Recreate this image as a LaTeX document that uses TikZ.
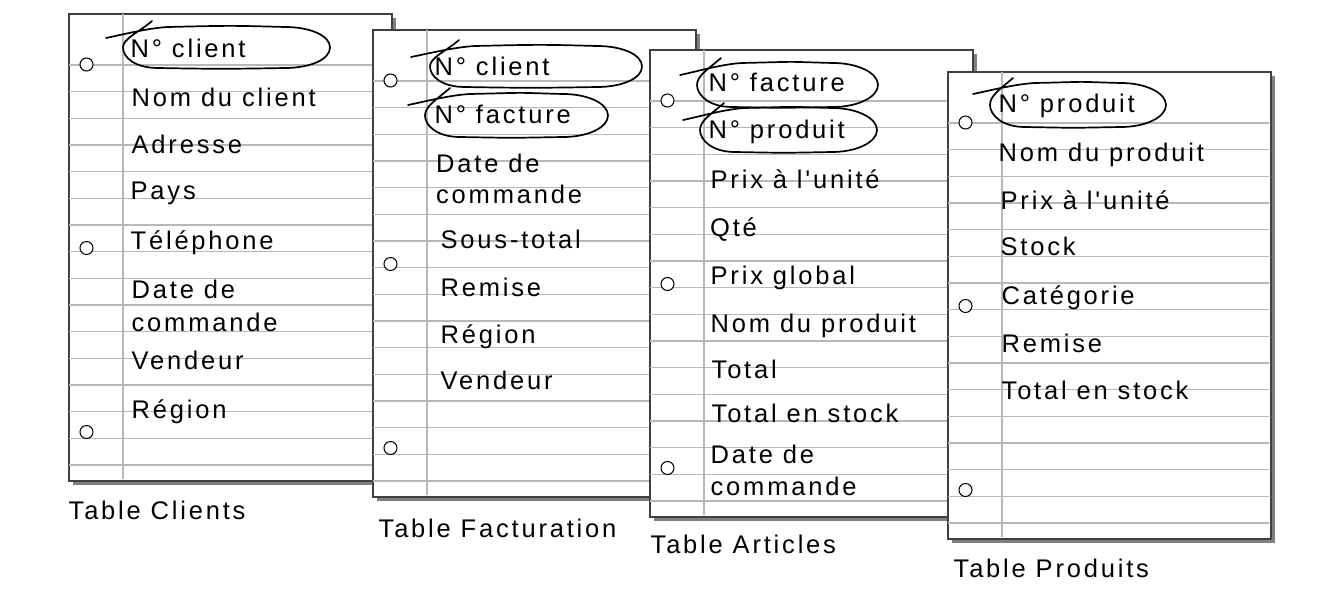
\documentclass[tikz,border=0pt]{standalone}
\usepackage{fontspec}
\setmainfont{Liberation Sans}[LetterSpace=11,Ligatures=TeXOff]
\definecolor{framecol}{gray}{0.25}
\definecolor{shadowcol}{gray}{0.5}
\definecolor{rulecol}{gray}{0.72}
\tikzset{
  frame/.style={draw=framecol, line width=1.6pt, fill=white, inner sep=0pt,
    minimum width=323pt, minimum height=467pt, anchor=north west},
  rule/.style={draw=rulecol, line width=1.3pt},
  hole/.style={circle, draw=black, line width=1pt, fill=white, minimum size=13pt, inner sep=0pt},
  field/.style={anchor=base west, inner sep=0pt, font=\fontsize{25.5}{30}\selectfont},
  lassoline/.style={draw=black, line width=1.7pt, line cap=round, line join=round},
}
% name, left, top
\newcommand\sheet[3]{%
  \fill[shadowcol] ({#2+5},{#3+5}) rectangle ({#2+328},{#3+472});
  \node[frame] (#1) at (#2,#3) {};
  \foreach \k in {0,...,15}
    \draw[rule] ({#2+1},{#3+52+\k*26.67}) -- ({#2+322},{#3+52+\k*26.67});
  \draw[rule] ({#2+55},{#3+1}) -- ({#2+55},{#3+466});
  \node[hole] (#1h1) at ({#2+18.5},{#3+51.5}) {};
  \node[hole] (#1h2) at ({#2+18.5},{#3+235}) {};
  \node[hole] (#1h3) at ({#2+18.5},{#3+419}) {};
}
% Sx Sy L T R B Ex Ey
\newcommand\lasso[8]{%
  \draw[lassoline] (#1,#2)
   .. controls ({#1+15},{#2-3}) and ({#3+25},{#4+1}) .. ({#3+45},#4)
   .. controls ({#3+110},{#4-1.5}) and ({#5-100},{#4-1.5}) .. ({#5-45},#4)
   .. controls ({#5-20},#4) and (#5,{(#4+#6)/2-12}) .. (#5,{(#4+#6)/2})
   .. controls (#5,{(#4+#6)/2+12}) and ({#5-20},#6) .. ({#5-45},#6)
   .. controls ({#5-100},{#6+1}) and ({#3+90},{#6+1}) .. ({#3+35},#6)
   .. controls ({#3+12},#6) and (#3,{(#4+#6)/2+10}) .. (#3,{(#4+#6)/2})
   .. controls (#3,{(#4+#6)/2-9}) and ({#7-14},{#8+12}) .. (#7,#8);
}
\begin{document}
\begin{tikzpicture}[x=1pt,y=-1pt]
\useasboundingbox (0,0) rectangle (1342,591);
\fill[white] (0,0) rectangle (1342,591);

% Table Clients
\sheet{t1}{68}{13}
\node[field] (t1a) at (130.5,58) {N° client};
\node[field] (t1b) at (131.5,107) {Nom du client};
\node[field] (t1c) at (131.5,154) {Adresse};
\node[field] (t1d) at (130.5,200) {Pays};
\node[field] (t1e) at (130.5,249) {Téléphone};
\node[field] (t1f) at (131.5,298) {Date de};
\node[field] (t1g) at (131.5,331) {commande};
\node[field] (t1h) at (131.5,369) {Vendeur};
\node[field] (t1i) at (131.5,418) {Région};
\lasso{106}{38}{123}{27}{330}{68}{152}{21}
\node[field] (c1) at (68.5,519) {Table Clients};

% Table Facturation
\sheet{t2}{372}{29}
\node[field] (t2a) at (434.5,76) {N° client};
\node[field] (t2b) at (434.5,124) {N° facture};
\node[field] (t2c) at (436,172) {Date de};
\node[field] (t2d) at (436,204) {commande};
\node[field] (t2e) at (440.5,248) {Sous-total};
\node[field] (t2f) at (440.5,296) {Remise};
\node[field] (t2g) at (440.5,343) {Région};
\node[field] (t2h) at (440.5,389) {Vendeur};
\lasso{411}{57}{430}{46}{642}{87}{459}{40}
\lasso{408}{105}{425}{94}{608}{137}{450}{88}
\node[field] (c2) at (378.5,537) {Table Facturation};

% Table Articles
\sheet{t3}{649}{49}
\node[field] (t3a) at (708.5,92) {N° facture};
\node[field] (t3b) at (708.5,139) {N° produit};
\node[field] (t3c) at (710.5,189) {Prix à l'unité};
\node[field] (t3d) at (710,236) {Qté};
\node[field] (t3e) at (710.5,284) {Prix global};
\node[field] (t3f) at (710.5,332) {Nom du produit};
\node[field] (t3g) at (711.5,378) {Total};
\node[field] (t3h) at (711.5,422) {Total en stock};
\node[field] (t3i) at (710.5,463) {Date de};
\node[field] (t3j) at (710.5,495) {commande};
\lasso{680}{75}{697}{63}{878}{107}{721}{58}
\lasso{683}{120}{700}{108}{877}{152}{724}{103}
\node[field] (c3) at (650.5,553) {Table Articles};

% Table Produits
\sheet{t4}{947}{71}
\node[field] (t4a) at (998.5,113) {N° produit};
\node[field] (t4b) at (998.5,162) {Nom du produit};
\node[field] (t4c) at (1000.5,209) {Prix à l'unité};
\node[field] (t4d) at (1000.5,255) {Stock};
\node[field] (t4e) at (1001.5,304) {Catégorie};
\node[field] (t4f) at (1001.5,352) {Remise};
\node[field] (t4g) at (1001.5,399) {Total en stock};
\lasso{973}{94}{990}{83}{1166}{127}{1013}{78}
\node[field] (c4) at (953.5,577) {Table Produits};
\end{tikzpicture}
\end{document}
